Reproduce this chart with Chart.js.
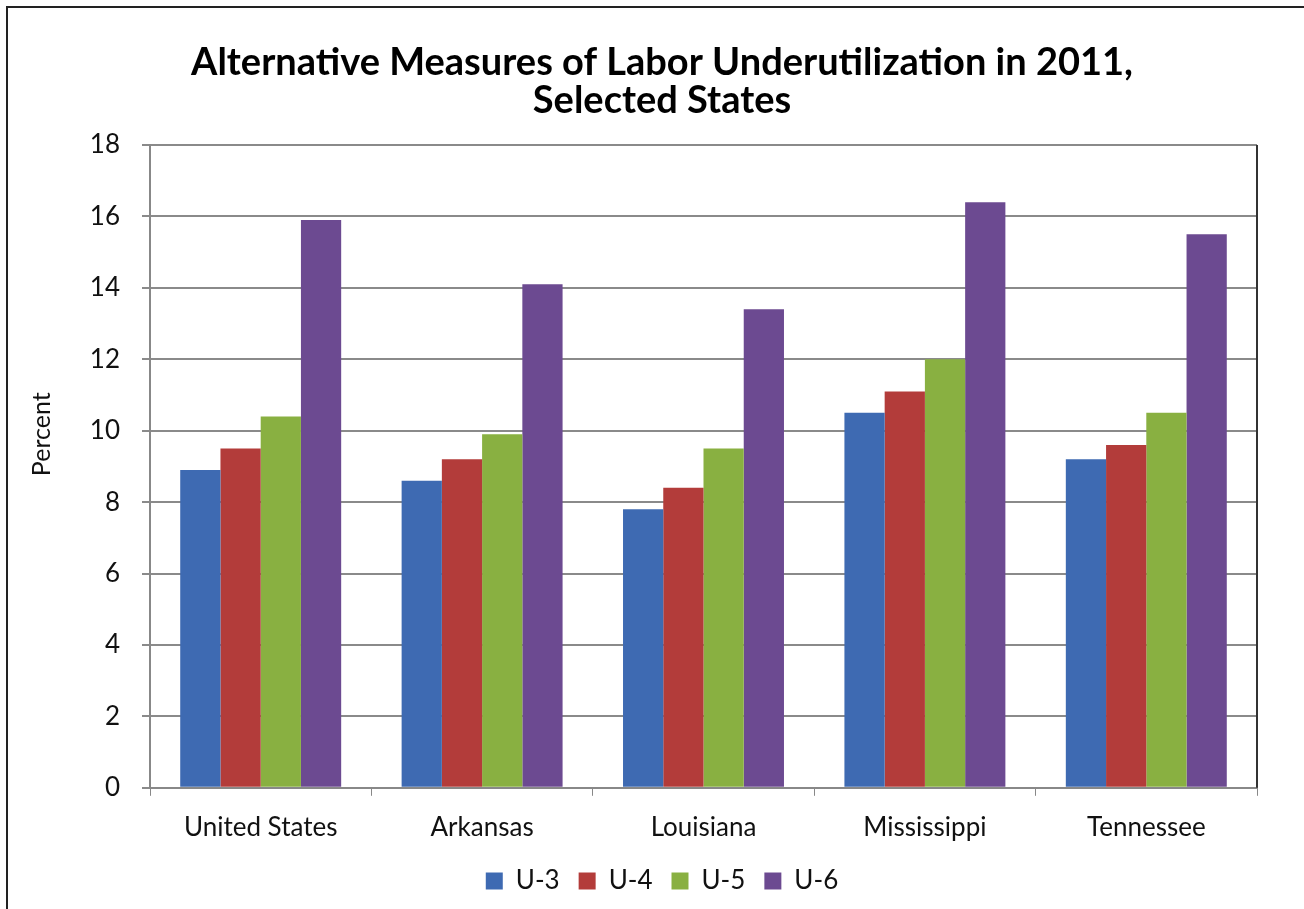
<!DOCTYPE html>
<html>
<head>
<meta charset="utf-8">
<script src="https://cdn.jsdelivr.net/npm/chart.js@4"></script>
<style>
  body { margin: 0; background: #fff; overflow: hidden; }
  #frame {
    position: absolute; left: 6px; top: 6px;
    width: 1310px; height: 920px;
    border: 2px solid #222; box-sizing: border-box;
  }
  #chart { position: absolute; left: 2px; top: 2px; }
</style>
</head>
<body>
<div id="frame"><canvas id="chart" width="1300" height="900"></canvas></div>
<script>
const states = ['United States', 'Arkansas', 'Louisiana', 'Mississippi', 'Tennessee'];
const u3 = [8.9, 8.6, 7.8, 10.5, 9.2];
const u4 = [9.5, 9.2, 8.4, 11.1, 9.6];
const u5 = [10.4, 9.9, 9.5, 12.0, 10.5];
const u6 = [15.9, 14.1, 13.4, 16.4, 15.5];
const seriesNames = ['U-3', 'U-4', 'U-5', 'U-6'];
const colors = ['#3e6ab2', '#b33c3a', '#89b041', '#6c4a91'];

const fontFamily = 'Lato, "Open Sans", sans-serif';

// right edge of the plot frame + the "Percent" label (sits a bit above centre in the original)
const frameLines = {
  id: 'frameLines',
  afterDraw(chart) {
    const { ctx, chartArea: a } = chart;
    ctx.save();
    ctx.strokeStyle = '#333';
    ctx.lineWidth = 2;
    ctx.beginPath();
    ctx.moveTo(a.right, a.top);
    ctx.lineTo(a.right, a.bottom);
    ctx.stroke();

    ctx.translate(32, a.top + (a.bottom - a.top) * 0.45);
    ctx.rotate(-Math.PI / 2);
    ctx.fillStyle = '#111';
    ctx.font = '25px ' + fontFamily;
    ctx.textAlign = 'center';
    ctx.textBaseline = 'middle';
    ctx.fillText('Percent', 0, 0);
    ctx.restore();
  }
};

new Chart(document.getElementById('chart'), {
  type: 'bar',
  data: {
    labels: states,
    datasets: [u3, u4, u5, u6].map((d, i) => ({
      label: seriesNames[i],
      data: d,
      backgroundColor: colors[i],
      borderWidth: 0,
      barPercentage: 1.0,
      categoryPercentage: 0.727
    }))
  },
  options: {
    responsive: false,
    animation: false,
    layout: { padding: { left: 57, right: 53, top: 0, bottom: 6 } },
    plugins: {
      title: {
        display: true,
        text: ['Alternative Measures of Labor Underutilization in 2011,', 'Selected States'],
        color: '#000',
        font: { family: fontFamily, size: 38, weight: 'bold', lineHeight: 1.0 },
        padding: { top: 34, bottom: 25 }
      },
      legend: {
        position: 'bottom',
        labels: {
          color: '#111',
          font: { family: fontFamily, size: 26 },
          boxWidth: 17,
          boxHeight: 17,
          padding: 19
        }
      },
      tooltip: { enabled: false }
    },
    scales: {
      x: {
        offset: true,
        grid: {
          display: true,
          offset: true,
          drawOnChartArea: false,
          color: '#888',
          tickLength: 8
        },
        border: { color: '#888', width: 2 },
        ticks: {
          color: '#111',
          font: { family: fontFamily, size: 26 },
          padding: 16
        },
        afterFit(scale) { scale.height = scale.height - 10; }
      },
      y: {
        min: 0,
        max: 18,
        ticks: {
          stepSize: 2,
          color: '#111',
          font: { family: fontFamily, size: 26 },
          padding: 22
        },
        grid: { color: '#8a8a8a', lineWidth: 2, tickLength: 8 },
        border: { color: '#888', width: 2 },
        afterFit(scale) { scale.width = 83; }
      }
    }
  },
  plugins: [frameLines]
});
</script>
</body>
</html>
